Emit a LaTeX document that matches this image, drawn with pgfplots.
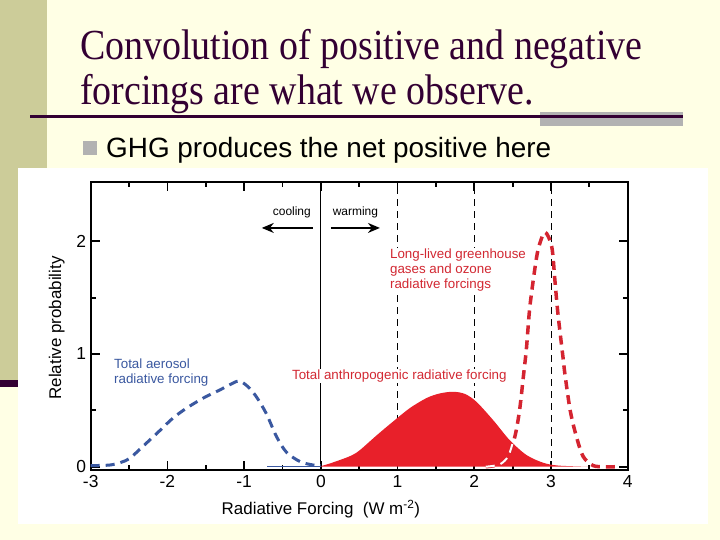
\documentclass[border=0pt]{standalone}
\usepackage{fontspec}
\setmainfont{Liberation Sans}
\newfontfamily\titlefont{Liberation Serif}
\usepackage{pgfplots}
\pgfplotsset{compat=1.18}
\usetikzlibrary{arrows.meta}
\definecolor{slidebg}{RGB}{255,255,229}
\definecolor{stripe}{RGB}{204,204,153}
\definecolor{titlec}{RGB}{51,0,51}
\definecolor{barg}{RGB}{178,178,178}
\definecolor{redfill}{RGB}{232,32,42}
\definecolor{reddash}{RGB}{212,36,48}
\definecolor{redtext}{RGB}{210,40,50}
\definecolor{bluec}{RGB}{58,88,160}
\begin{document}
\begin{tikzpicture}
\begin{scope}[x=1bp,y=1bp]
\path[use as bounding box, fill=slidebg] (0,0) rectangle (720,540);
\fill[stripe] (0,160) rectangle (47,540);
\fill[titlec] (0,153) rectangle (18,160);
\fill[barg] (540,414) rectangle (683,428.3);
\draw[titlec, line width=3.4bp] (30,423.3) -- (683,423.3);
\node[anchor=base west, inner sep=0, text=titlec] at (80,480) {\titlefont\fontsize{43}{43}\selectfont\scalebox{0.885}[1]{Convolution of positive and negative}};
\node[anchor=base west, inner sep=0, text=titlec] at (80,435) {\titlefont\fontsize{43}{43}\selectfont\scalebox{0.885}[1]{forcings are what we observe.}};
\fill[barg] (83,385) rectangle (97,399);
\node[anchor=base west, inner sep=0] at (106,382) {\fontsize{28}{28}\selectfont GHG produces the net positive here};
\fill[white] (18,16) rectangle (708,372);
\end{scope}
\begin{axis}[
  at={(90.7bp,70bp)}, anchor=south west,
  scale only axis, width=537bp, height=287.7bp,
  xmin=-3, xmax=4, ymin=-0.029, ymax=2.523,
  xtick={-3,-2,-1,0,1,2,3,4},
  xticklabels={-3,-2,-1,0,1,2,3,4},
  ytick={0,1,2}, yticklabels={0,1,2},
  minor xtick={-2.5,-1.5,-0.5,0.5,1.5,2.5,3.5},
  minor ytick={0.5,1.5},
  tick align=inside,
  major tick length=9bp, minor tick length=5bp,
  every tick/.style={black, line width=1.8bp},
  axis line style={line width=1.6bp},
  ticklabel style={font=\fontsize{17.5}{17.5}\selectfont},
  xticklabel style={yshift=-2bp},
  yticklabel style={xshift=-1bp},
  xlabel={Radiative Forcing\ \ (W m\textsuperscript{-2})},
  ylabel={Relative probability},
  xlabel style={at={(axis description cs:0.4286,-0.135)}, anchor=center, font=\fontsize{17}{17}\selectfont},
  ylabel style={at={(axis description cs:-0.063,0.494)}, anchor=center, font=\fontsize{17}{17}\selectfont},
  clip=false,
]
% reference lines
\draw[black, line width=1bp] (axis cs:0,-0.029) -- (axis cs:0,2.523);
\draw[black, line width=1bp, dash pattern=on 7bp off 5bp] (axis cs:1,-0.029) -- (axis cs:1,2.523);
\draw[black, line width=1bp, dash pattern=on 7bp off 5bp] (axis cs:2,-0.029) -- (axis cs:2,2.523);
\draw[black, line width=1bp, dash pattern=on 7bp off 5bp] (axis cs:3,-0.029) -- (axis cs:3,2.523);
% total anthropogenic (filled)
\addplot[fill=redfill, draw=none, smooth] table {
x y
0 0.005
0.1 0.025
0.25 0.06
0.4 0.10
0.51 0.148
0.73 0.28
0.94 0.40
1.16 0.52
1.38 0.61
1.55 0.65
1.725 0.665
1.88 0.645
2.03 0.575
2.25 0.41
2.46 0.237
2.68 0.104
2.90 0.035
3.1 0.01
3.5 0.0
} \closedcycle;
% thin tail line
\addplot[bluec, line width=0.8bp] coordinates {(-0.7,0.004) (0,0.004)};
% aerosol
\addplot[bluec, line width=3bp, dash pattern=on 9bp off 6bp, smooth] table {
x y
-3 0.01
-2.75 0.015
-2.6 0.04
-2.49 0.075
-2.32 0.18
-2.10 0.32
-1.93 0.43
-1.75 0.52
-1.53 0.61
-1.32 0.68
-1.15 0.74
-1.06 0.76
-0.95 0.71
-0.84 0.62
-0.71 0.47
-0.58 0.27
-0.45 0.13
-0.27 0.045
-0.1 0.015
0 0.01
};
% GHG
\addplot[reddash, line width=3.5bp, dash pattern=on 9bp off 6bp, smooth, tension=0.5] table {
x y
2.15 0.0
2.33 0.02
2.44 0.09
2.53 0.27
2.59 0.50
2.64 0.80
2.68 1.05
2.72 1.39
2.77 1.66
2.83 1.92
2.92 2.08
3.01 1.95
3.05 1.66
3.09 1.36
3.16 0.95
3.18 0.83
3.25 0.50
3.33 0.27
3.42 0.09
3.55 0.01
3.7 0.0
3.85 0.0
};
\addplot[white, line width=2bp, dash pattern=on 9bp off 6bp, smooth, tension=0.5] table {
x y
2.15 0.0
2.33 0.02
2.44 0.09
2.50 0.21
};
% arrows and annotations
\draw[-{Stealth[length=12bp,width=10bp]}, line width=1.5bp] (axis cs:-0.104,2.118) -- (axis cs:-0.77,2.118);
\draw[-{Stealth[length=12bp,width=10bp]}, line width=1.5bp] (axis cs:0.13,2.118) -- (axis cs:0.77,2.118);
\node[font=\fontsize{12}{12}\selectfont, fill=white, inner sep=1bp] at (axis cs:-0.378,2.26) {cooling};
\node[font=\fontsize{12}{12}\selectfont, fill=white, inner sep=1bp] at (axis cs:0.45,2.26) {warming};
\node[anchor=north west, align=left, fill=white, inner sep=1bp, text=redtext, font=\fontsize{13.4}{15}\selectfont] at (axis cs:0.887,1.94) {Long-lived greenhouse\\gases and ozone\\radiative forcings};
\node[anchor=west, fill=white, inner sep=1bp, text=redtext, font=\fontsize{13.4}{15}\selectfont] at (axis cs:-0.39,0.805) {Total anthropogenic radiative forcing};
\node[anchor=north west, align=left, inner sep=1bp, text=bluec, font=\fontsize{13.4}{15}\selectfont] at (axis cs:-2.71,0.965) {Total aerosol\\radiative forcing};
\end{axis}
\end{tikzpicture}
\end{document}
